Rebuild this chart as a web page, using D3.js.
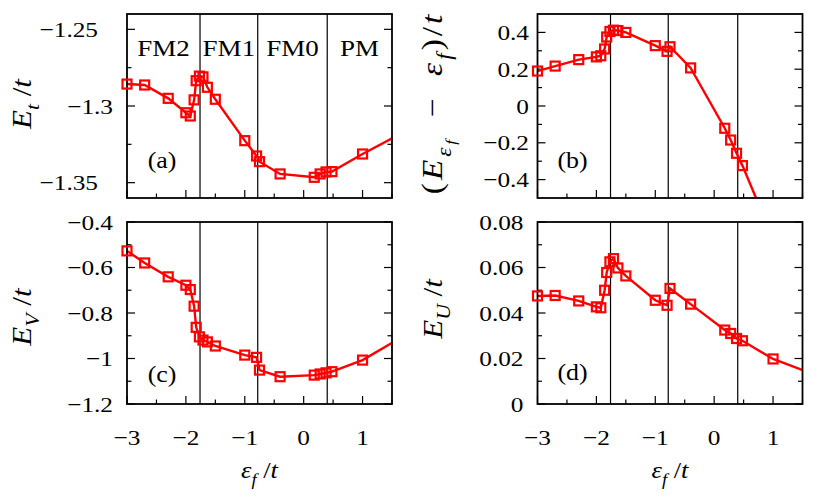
<!DOCTYPE html>
<html>
<head>
<meta charset="utf-8">
<style>
  body { margin: 0; background: #fff; }
  svg text { font-family: "Liberation Serif", "Times New Roman", Times, "DejaVu Serif", serif; }
</style>
</head>
<body>
<svg width="822" height="500"></svg>

<script src="https://cdn.jsdelivr.net/npm/d3@7/dist/d3.min.js"></script>
<script>
  // data (x = eps_f / t)
  const epsF = [-3, -2.7, -2.3, -2, -1.925, -1.86, -1.825, -1.77, -1.71, -1.635, -1.5,
                -1, -0.8, -0.75, -0.4, 0.18, 0.28, 0.38, 0.48, 1.0, 2.0];
  const eTot = [-1.2857, -1.2863, -1.295, -1.3044, -1.3065, -1.296, -1.2835, -1.2805, -1.281, -1.2878, -1.2956,
                -1.3226, -1.3326, -1.3363, -1.3443, -1.3465, -1.3443, -1.343, -1.3428, -1.3313, -1.311];
  const eShift = [0.19, 0.217, 0.252, 0.267, 0.273, 0.31, 0.375, 0.405, 0.412, 0.41, 0.40,
                  0.328, 0.297, 0.322, 0.207, -0.121, -0.185, -0.257, -0.324, -0.72, null];
  const eV = [-0.527, -0.58, -0.641, -0.678, -0.697, -0.77, -0.863, -0.905, -0.919, -0.927, -0.945,
              -0.985, -0.995, -1.051, -1.08, -1.073, -1.068, -1.063, -1.058, -1.007, -0.855];
  const eU = [0.0475, 0.0477, 0.0453, 0.0427, 0.0423, 0.050, 0.0578, 0.0625, 0.0639, 0.0598, 0.0563,
              0.0456, 0.0434, 0.0508, 0.0439, 0.0325, 0.031, 0.0288, 0.0278, 0.0198, 0.010];

  const phaseBounds = [-1.76, -0.78, 0.4];
  const phaseNames = ["FM2", "FM1", "FM0", "PM"];

  const xDomain = [-3, 1.5];
  const xTicks = d3.range(-3, 1.51, 0.5);
  const xLabels = [-3, -2, -1, 0, 1];

  const aTicks = [-1.35, -1.325, -1.3, -1.275, -1.25];
  const aLabels = [-1.35, -1.3, -1.25];
  const bTicks = d3.range(-4, 5).map(d => d / 10);
  const bLabels = [-0.4, -0.2, 0, 0.2, 0.4];
  const cTicks = d3.range(-12, -3).map(d => d / 10);
  const cLabels = [-1.2, -1, -0.8, -0.6, -0.4];
  const dTicks = d3.range(0, 9).map(d => d / 100);
  const dLabels = [0, 0.02, 0.04, 0.06, 0.08];

  const svg = d3.select("svg");
  const red = "#ff0000";
  const SX = 1.15; // the original lettering is a bit wider than Times
  const fmt = v => d3.format("")(+v.toFixed(4)).replace("-", "\u2212");

  function txt(parent, x, y, size, anchor) {
    return parent.append("text")
      .attr("transform", `translate(${x},${y}) scale(${SX},1)`)
      .attr("text-anchor", anchor)
      .attr("font-size", size);
  }

  // text made of pieces: [string, kind] kind: r roman, i italic, s sub italic, ss sub-sub italic
  function rich(sel, parts, size) {
    const shifts = { r: 0, i: 0, s: size * 0.3, ss: size * 0.48 };
    const sizes = { r: size, i: size, s: size * 0.7, ss: size * 0.52 };
    let cur = 0;
    parts.forEach(([t, k]) => {
      sel.append("tspan")
        .attr("dy", shifts[k] - cur)
        .attr("font-size", sizes[k])
        .attr("font-style", k === "r" ? "normal" : "italic")
        .text(t);
      cur = shifts[k];
    });
  }

  const panels = [
    { key: "a", vals: eTot, left: 127, top: 14, bottom: 198, dom: [-1.36, -1.24],
      ticks: aTicks, labels: aLabels, tag: "(a)", tagY: 168, xlab: false,
      ylab: [["E", "i"], ["t", "s"], [" /", "r"], ["t", "i"]], ylx: 31, yly: 104 },
    { key: "b", vals: eShift, left: 537.5, top: 14, bottom: 198, dom: [-0.5, 0.5],
      ticks: bTicks, labels: bLabels, tag: "(b)", tagY: 168, xlab: false,
      ylab: [["(", "r"], ["E", "i"], ["\u03b5", "s"], ["f", "ss"], ["\u2002\u2212\u2002", "r"], ["\u03b5", "i"], ["f", "s"], [")/", "r"], ["t", "i"]],
      ylx: 442, yly: 104.5, ylen: 156 },
    { key: "c", vals: eV, left: 127, top: 222, bottom: 404, dom: [-1.2, -0.4],
      ticks: cTicks, labels: cLabels, tag: "(c)", tagY: 382, xlab: true,
      ylab: [["E", "i"], ["V", "s"], [" /", "r"], ["t", "i"]], ylx: 31, yly: 317 },
    { key: "d", vals: eU, left: 537.5, top: 222, bottom: 404, dom: [0, 0.08],
      ticks: dTicks, labels: dLabels, tag: "(d)", tagY: 380, xlab: true,
      ylab: [["E", "i"], ["U", "s"], [" /", "r"], ["t", "i"]], ylx: 442, yly: 309 }
  ];
  const pw = 265;

  panels.forEach(p => {
    const x = d3.scaleLinear().domain(xDomain).range([p.left, p.left + pw]);
    const y = d3.scaleLinear().domain(p.dom).range([p.bottom, p.top]);
    const g = svg.append("g");

    g.append("clipPath").attr("id", "clip-" + p.key)
      .append("rect")
      .attr("x", p.left).attr("y", p.top)
      .attr("width", pw).attr("height", p.bottom - p.top);

    // phase boundaries
    g.selectAll("line.phase")
      .data(phaseBounds)
      .join("line")
      .attr("class", "phase")
      .attr("x1", d => x(d)).attr("x2", d => x(d))
      .attr("y1", p.top).attr("y2", p.bottom)
      .attr("stroke", "#000").attr("stroke-width", 1.2);

    if (p.key === "a") {
      const edges = [xDomain[0], ...phaseBounds, xDomain[1]];
      phaseNames.forEach((name, i) => {
        txt(g, (x(edges[i]) + x(edges[i + 1])) / 2, 56, 23.5, "middle").text(name);
      });
    }

    // ticks: x bottom only, y both sides
    g.selectAll("line.xt")
      .data(xTicks)
      .join("line")
      .attr("class", "xt")
      .attr("x1", d => x(d)).attr("x2", d => x(d))
      .attr("y1", p.bottom)
      .attr("y2", d => p.bottom - (Number.isInteger(d) ? 8 : 4.5))
      .attr("stroke", "#000").attr("stroke-width", 1.2);

    [p.left, p.left + pw].forEach((edge, side) => {
      g.selectAll("line.yt" + side)
        .data(p.ticks)
        .join("line")
        .attr("class", "yt" + side)
        .attr("x1", edge)
        .attr("x2", d => {
          const len = p.labels.some(l => Math.abs(l - d) < 1e-9) ? 8 : 4.5;
          return side === 0 ? edge + len : edge - len;
        })
        .attr("y1", d => y(d)).attr("y2", d => y(d))
        .attr("stroke", "#000").attr("stroke-width", 1.2);
    });

    // y tick labels
    p.labels.forEach(v => {
      const s = fmt(v);
      let lx = p.left - 14;
      if (p.key === "a" && s.length >= 5) lx = p.left - 29;
      if (p.key === "b") lx = p.left - 8.5;
      txt(g, lx, y(v) + 7.5, 22, "end").text(s);
    });

    if (p.xlab) {
      xLabels.forEach(v => txt(g, x(v), 445, 22, "middle").text(fmt(v)));
      const xt = txt(g, p.left + pw / 2, 478, 23, "middle");
      rich(xt, [["\u03b5", "i"], ["f", "s"], [" /", "r"], ["t", "i"]], 23);
    }

    // y axis title
    const yt = g.append("text")
      .attr("transform", `translate(${p.ylx},${p.yly}) rotate(-90) scale(${SX},1)`)
      .attr("text-anchor", "middle");
    if (p.ylen) yt.attr("textLength", p.ylen).attr("lengthAdjust", "spacing");
    rich(yt, p.ylab, p.key === "b" ? 29 : 27);

    // panel tag
    txt(g, p.left + 35, p.tagY, 22.5, "middle").text(p.tag);

    // data line
    const pts = epsF.map((e, i) => [e, p.vals[i]]);
    g.append("path")
      .datum(pts)
      .attr("clip-path", `url(#clip-${p.key})`)
      .attr("fill", "none")
      .attr("stroke", red)
      .attr("stroke-width", 2.4)
      .attr("d", d3.line().defined(d => d[1] != null).x(d => x(d[0])).y(d => y(d[1])));

    // frame
    g.append("rect")
      .attr("x", p.left).attr("y", p.top)
      .attr("width", pw).attr("height", p.bottom - p.top)
      .attr("fill", "none").attr("stroke", "#000").attr("stroke-width", 1.8);

    // markers, only points inside the plotted range
    const inside = pts.filter(d => d[1] != null && d[0] >= xDomain[0] && d[0] <= xDomain[1]
      && d[1] >= p.dom[0] && d[1] <= p.dom[1]);
    g.selectAll("rect.pt")
      .data(inside)
      .join("rect")
      .attr("class", "pt")
      .attr("x", d => x(d[0]) - 4.5).attr("y", d => y(d[1]) - 4.5)
      .attr("width", 9).attr("height", 9)
      .attr("fill", "none").attr("stroke", red).attr("stroke-width", 2.2);
  });
</script>
</body>
</html>
